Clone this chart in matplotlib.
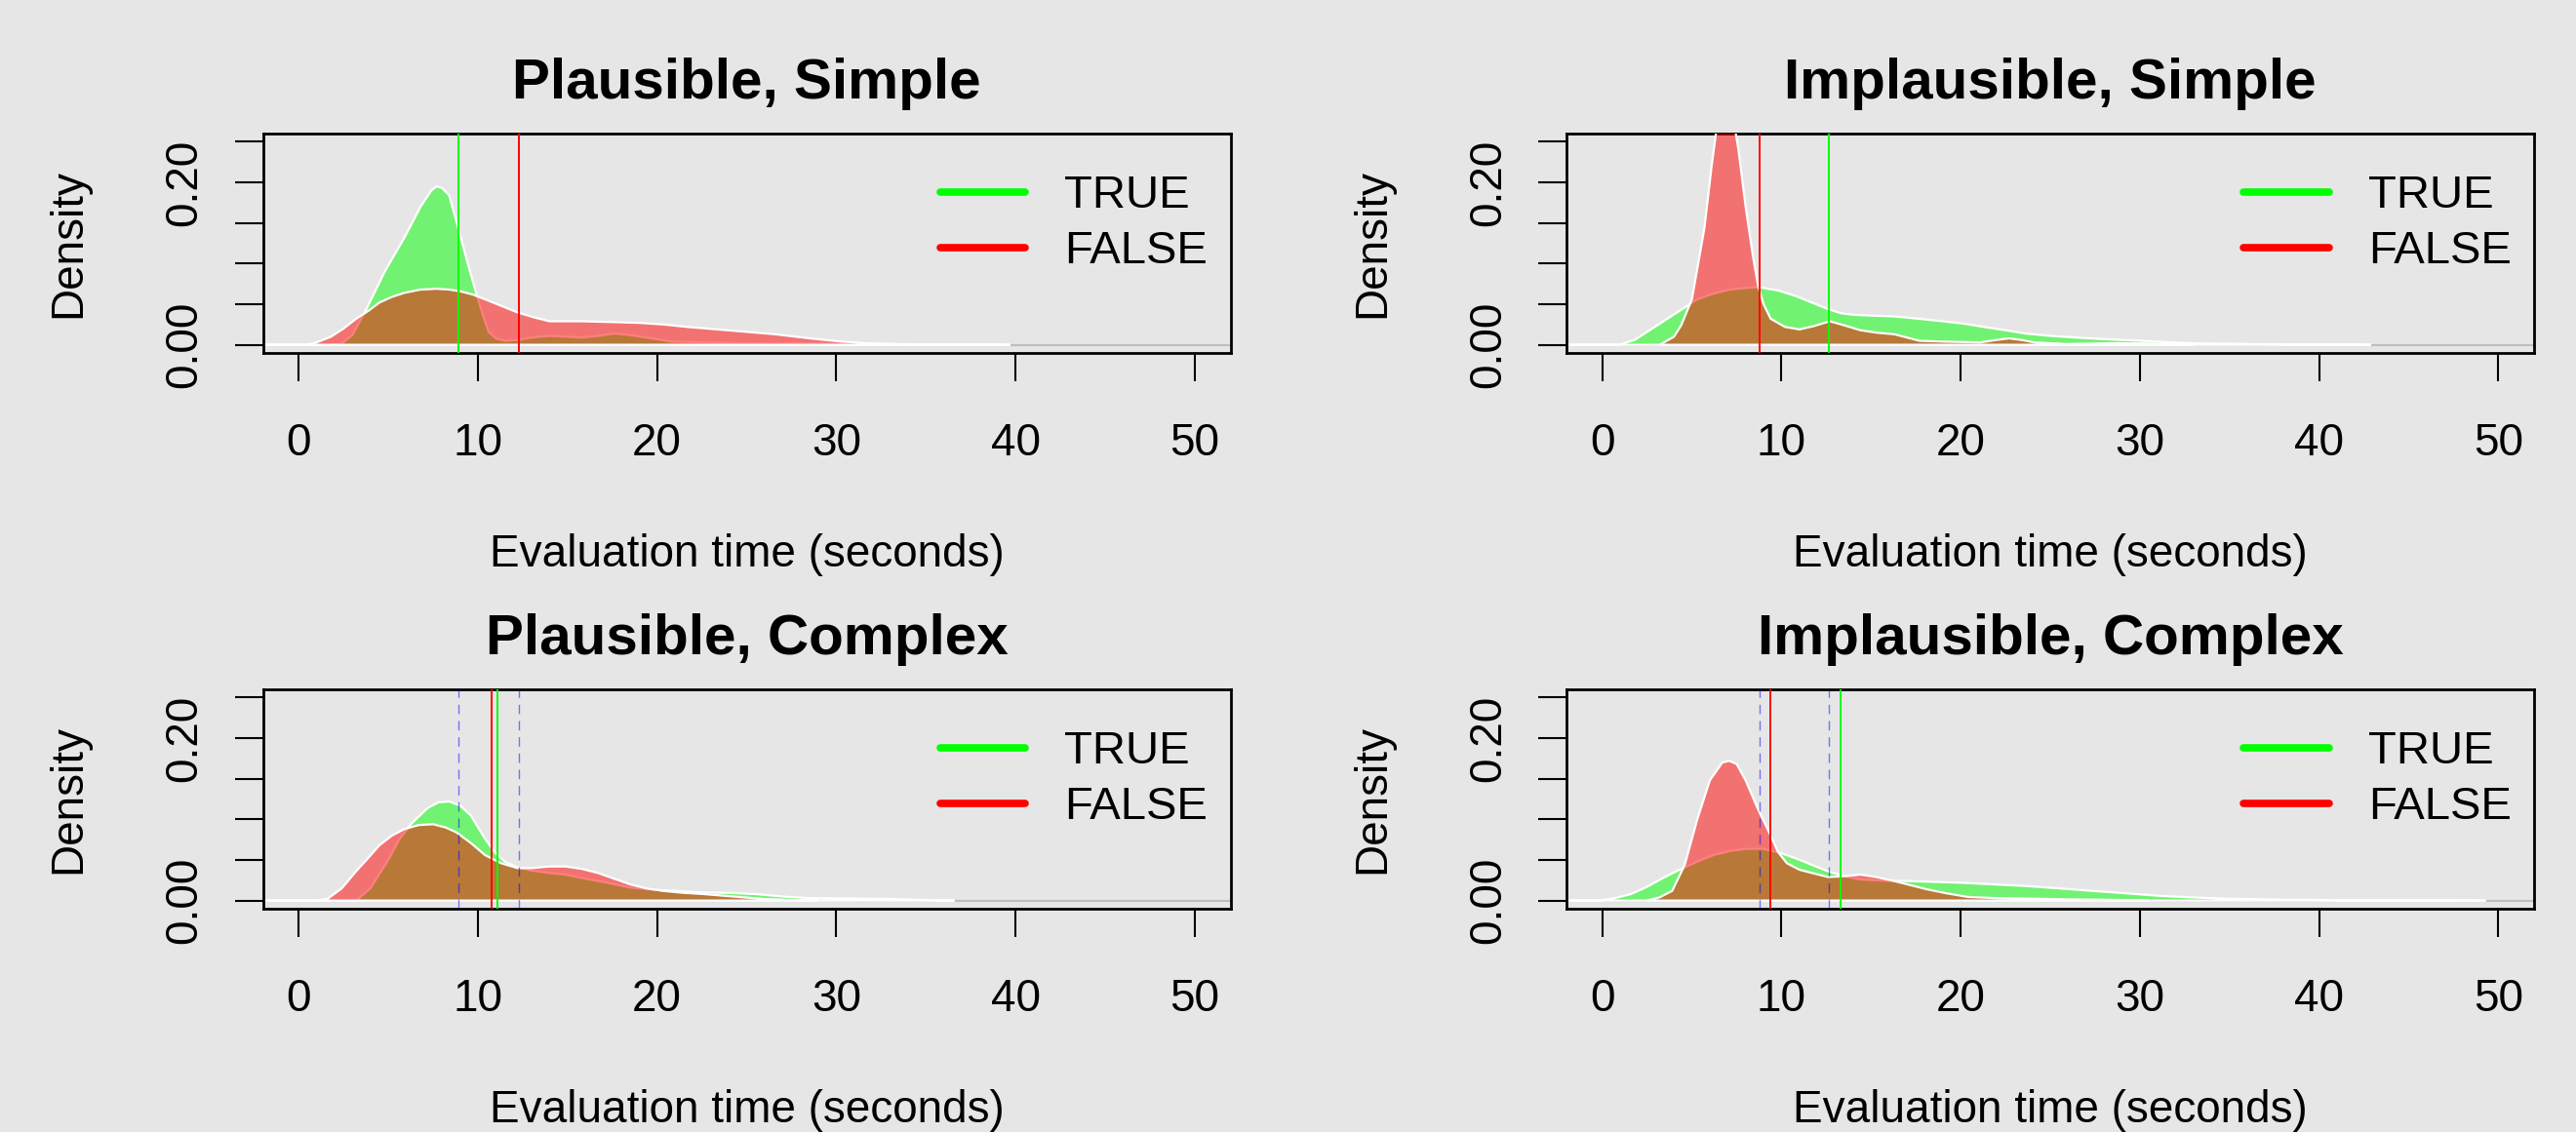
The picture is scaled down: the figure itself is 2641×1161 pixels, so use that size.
import matplotlib
matplotlib.use("Agg")
import matplotlib.pyplot as plt
from matplotlib.lines import Line2D

plt.rcParams['font.family'] = ['Liberation Sans', 'DejaVu Sans']

# ---------------- data ----------------
titles = ["Plausible, Simple", "Implausible, Simple",
          "Plausible, Complex", "Implausible, Complex"]
legend_labels = ["TRUE", "FALSE"]
x_ticks = [0, 10, 20, 30, 40, 50]
y_ticks = [0.00, 0.05, 0.10, 0.15, 0.20, 0.25]
y_tick_labels = ["0.00", "", "", "", "0.20", ""]

# Panel 1: Plausible, Simple
p1_true_x = [-4, 0, 2.3, 3.0, 3.8, 4.8, 5.9, 6.8, 7.4, 7.7, 8.0, 8.4, 9.0, 9.5, 9.9, 10.3,
             10.6, 11.0, 11.5, 12.2, 13.0, 14.0, 15.0, 15.8, 16.7, 17.6, 18.5, 19.4, 20.8,
             22.5, 25.0, 28.0, 31.0, 33.0, 36.0, 39.7]
p1_true_y = [0, 0, 0, 0.012, 0.045, 0.09, 0.132, 0.17, 0.19, 0.195, 0.193, 0.184, 0.136,
             0.095, 0.064, 0.035, 0.016, 0.008, 0.005, 0.006, 0.009, 0.011, 0.010, 0.009,
             0.011, 0.014, 0.012, 0.009, 0.004, 0.003, 0.002, 0.002, 0.002, 0.001, 0.0003, 0]
p1_false_x = [0.4, 1.0, 1.8, 2.5, 3.2, 3.9, 4.5, 5.2, 5.9, 6.8, 7.7, 8.4, 9.0, 9.7, 10.4,
              11.3, 12.2, 13.1, 14.0, 15.8, 17.5, 19.0, 20.4, 21.7, 23.9, 26.6, 28.5, 30.3,
              32.0, 35.0]
p1_false_y = [0, 0.003, 0.01, 0.02, 0.032, 0.042, 0.052, 0.059, 0.064, 0.068, 0.069, 0.068,
              0.066, 0.062, 0.056, 0.048, 0.040, 0.034, 0.029, 0.029, 0.028, 0.027, 0.025,
              0.022, 0.018, 0.013, 0.008, 0.004, 0.0016, 0]
p1_mean_true, p1_mean_false = 8.93, 12.3

# Panel 2: Implausible, Simple
p2_true_x = [-4, 0.9, 1.8, 2.5, 3.2, 3.9, 4.6, 5.3, 6.2, 7.1, 8.0, 8.7, 9.8, 10.8, 11.7,
             12.6, 13.3, 14.0, 15.0, 16.3, 17.7, 19.0, 20.2, 21.3, 22.5, 23.6, 25.0, 26.4,
             28.0, 30.0, 32.8, 36.0, 42.9]
p2_true_y = [0, 0, 0.006, 0.016, 0.026, 0.036, 0.046, 0.056, 0.063, 0.068, 0.070, 0.071,
             0.067, 0.060, 0.052, 0.044, 0.039, 0.037, 0.036, 0.035, 0.032, 0.029, 0.026,
             0.022, 0.018, 0.014, 0.011, 0.009, 0.007, 0.005, 0.002, 0.001, 0]
p2_false_x = [3.2, 4.0, 4.4, 5.0, 5.7, 6.1, 6.4, 6.9, 7.3, 7.6, 8.0, 8.4, 8.7, 9.0, 9.4,
              10.2, 11.0, 11.8, 12.7, 13.5, 14.4, 15.3, 16.3, 17.0, 17.7, 19.0, 21.1, 22.0,
              22.7, 23.4, 24.1, 25.9, 28.7, 31.0, 33.0]
p2_false_y = [0, 0.01, 0.024, 0.056, 0.144, 0.22, 0.27, 0.30, 0.28, 0.24, 0.17, 0.11,
              0.072, 0.05, 0.032, 0.022, 0.019, 0.023, 0.029, 0.024, 0.018, 0.015, 0.013,
              0.009, 0.005, 0.004, 0.003, 0.006, 0.008, 0.006, 0.003, 0.001, 0.002, 0.0015, 0]
p2_mean_true, p2_mean_false = 12.63, 8.78

# Panel 3: Plausible, Complex
p3_true_x = [-4, 3.2, 4.0, 5.0, 5.6, 6.3, 7.2, 7.8, 8.4, 9.0, 9.6, 10.4, 11.0, 11.5, 12.2,
             13.0, 14.0, 14.9, 16.0, 17.0, 18.5, 20.0, 21.0, 22.6, 24.0, 25.5, 27.0, 28.5,
             31.0, 33.0, 36.6]
p3_true_y = [0, 0, 0.015, 0.05, 0.075, 0.095, 0.114, 0.121, 0.122, 0.117, 0.105, 0.076,
             0.058, 0.048, 0.041, 0.037, 0.034, 0.032, 0.027, 0.023, 0.016, 0.013, 0.012,
             0.010, 0.0095, 0.008, 0.005, 0.003, 0.0025, 0.002, 0]
p3_false_x = [1.0, 1.6, 2.4, 3.2, 3.9, 4.5, 5.2, 5.9, 6.7, 7.5, 8.2, 8.8, 9.6, 10.4, 11.3,
              12.2, 13.0, 14.0, 14.9, 15.8, 16.7, 17.6, 18.5, 19.4, 20.3, 21.5, 22.6, 23.7,
              24.8, 26.0, 27.1, 29.0]
p3_false_y = [0, 0.002, 0.015, 0.036, 0.053, 0.068, 0.080, 0.088, 0.093, 0.094, 0.090,
              0.084, 0.071, 0.056, 0.046, 0.040, 0.040, 0.042, 0.042, 0.039, 0.034, 0.027,
              0.020, 0.015, 0.012, 0.0095, 0.008, 0.006, 0.004, 0.002, 0.001, 0]
p3_mean_true, p3_mean_false = 11.1, 10.78

# Panel 4: Implausible, Complex
p4_true_x = [-4, -0.2, 0.7, 1.6, 2.5, 3.4, 4.4, 5.3, 6.2, 7.1, 8.0, 8.9, 9.9, 10.8, 11.7,
             12.6, 13.5, 14.4, 15.8, 17.2, 18.6, 20.0, 21.8, 23.6, 25.5, 27.3, 29.2, 31.0,
             32.8, 34.6, 38.0, 42.0, 49.3]
p4_true_y = [0, 0, 0.003, 0.008, 0.017, 0.028, 0.039, 0.048, 0.056, 0.061, 0.0635, 0.064,
             0.059, 0.052, 0.044, 0.036, 0.030, 0.026, 0.0245, 0.024, 0.023, 0.022, 0.020,
             0.018, 0.015, 0.012, 0.009, 0.006, 0.004, 0.0025, 0.0012, 0.0005, 0]
p4_false_x = [2.5, 3.2, 3.9, 4.6, 5.3, 6.0, 6.7, 7.1, 7.5, 8.0, 8.7, 9.4, 9.8, 10.3, 11.0,
              11.7, 12.6, 13.5, 14.4, 15.3, 16.3, 17.2, 18.1, 19.2, 20.4, 22.0, 23.6, 26.0,
              28.2, 30.5]
p4_false_y = [0, 0.004, 0.012, 0.044, 0.100, 0.148, 0.170, 0.172, 0.168, 0.148, 0.112,
              0.080, 0.060, 0.046, 0.038, 0.034, 0.029, 0.030, 0.032, 0.029, 0.024, 0.019,
              0.014, 0.009, 0.0045, 0.003, 0.0025, 0.0015, 0.001, 0]
p4_mean_true, p4_mean_false = 13.32, 9.36

# reference means (from the simple conditions) shown dashed in complex panels
p3_ref_means = [p1_mean_true, p1_mean_false]
p4_ref_means = [p2_mean_false, p2_mean_true]

panels = [
    (p1_true_x, p1_true_y, p1_false_x, p1_false_y, p1_mean_true, p1_mean_false, []),
    (p2_true_x, p2_true_y, p2_false_x, p2_false_y, p2_mean_true, p2_mean_false, []),
    (p3_true_x, p3_true_y, p3_false_x, p3_false_y, p3_mean_true, p3_mean_false, p3_ref_means),
    (p4_true_x, p4_true_y, p4_false_x, p4_false_y, p4_mean_true, p4_mean_false, p4_ref_means),
]

# ---------------- figure ----------------
BG = "#E6E6E6"
W, H = 2641, 1161
fig = plt.figure(figsize=(W / 100, H / 100), dpi=100, facecolor=BG)

col_left = [269.5, 1606]
col_width = 992
row_top = [137, 707]
row_height = 225

FS = 33
for i, (tx, ty, fx, fy, mt, mf, refs) in enumerate(panels):
    r, c = divmod(i, 2)
    left = col_left[c] / W
    bottom = 1 - (row_top[r] + row_height) / H
    ax = fig.add_axes([left, bottom, col_width / W, row_height / H])
    ax.set_facecolor(BG)

    ax.axhline(0, color="#BEBEBE", lw=1.5, zorder=1)
    ax.fill(tx, ty, facecolor=(0, 1, 0, 0.5), edgecolor="white", lw=1.6, zorder=2)
    ax.fill(fx, fy, facecolor=(1, 0, 0, 0.5), edgecolor="white", lw=1.6, zorder=3)
    for m in refs:
        ax.axvline(m, color=(0, 0, 1, 0.5), lw=1.0, ls=(0, (7, 5)), zorder=4)
    ax.axvline(mt, color="#00FF00", lw=1.4, zorder=5)
    ax.axvline(mf, color="#FF0000", lw=1.4, zorder=5)

    ax.set_xlim(-2, 52)
    ax.set_ylim(-0.01, 0.26)
    ax.set_xticks(x_ticks)
    ax.set_xticklabels([str(v) for v in x_ticks])
    ax.set_yticks(y_ticks)
    ax.set_yticklabels(y_tick_labels, rotation=90, va="center")
    ax.tick_params(axis="x", length=20.9, width=1.5, pad=30, labelsize=FS)
    ax.tick_params(axis="y", length=20.9, width=1.5, pad=21, labelsize=FS)
    for s in ax.spines.values():
        s.set_linewidth(2)
        s.set_color("black")

    ax.text(0.5, 1 + 36.3 / row_height, titles[i], transform=ax.transAxes,
            ha="center", va="baseline", fontsize=42, fontweight="bold")
    ax.text(0.5, -0.975, "Evaluation time (seconds)", transform=ax.transAxes,
            ha="center", va="baseline", fontsize=FS)
    ax.text(-0.1883, 0.5, "Density", transform=ax.transAxes, rotation=90,
            rotation_mode="anchor", ha="center", va="baseline", fontsize=FS)

    handles = [Line2D([0], [0], color="#00FF00", lw=5.5, solid_capstyle="round"),
               Line2D([0], [0], color="#FF0000", lw=5.5, solid_capstyle="round")]
    ax.legend(handles, legend_labels, loc="upper left", bbox_to_anchor=(0.70, 0.813),
              frameon=False, fontsize=34, borderpad=0, borderaxespad=0,
              handlelength=1.85, handletextpad=0.85, labelspacing=0.28)

fig.savefig("out.png", dpi=100, facecolor=BG)
